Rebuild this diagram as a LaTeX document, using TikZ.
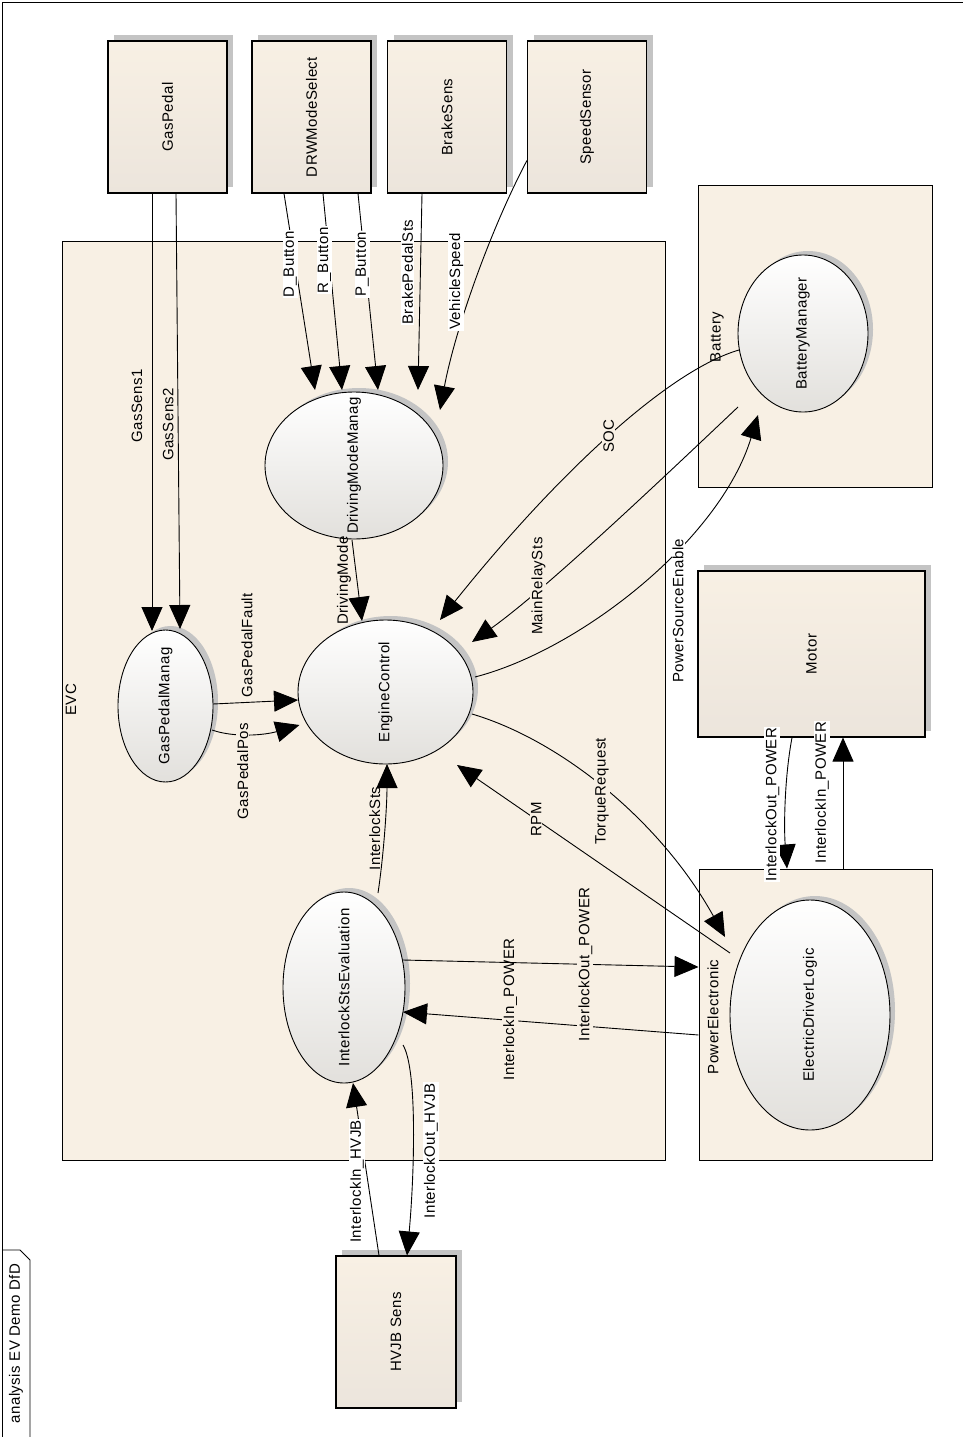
\documentclass[tikz,border=0pt]{standalone}
\usepackage{fontspec}
\setmainfont{Liberation Sans}[LetterSpace=3]
\usepackage{graphicx}
\usetikzlibrary{arrows.meta, shapes.geometric, shadows, calc}

\definecolor{evcbg}{RGB}{248,240,228}
\definecolor{boxlow}{RGB}{236,229,220}
\definecolor{proclow}{RGB}{226,224,220}
\definecolor{shade}{RGB}{196,196,196}

% upright text that does not blow up the shape around it
\newcommand{\vtxt}[1]{\rotatebox{90}{\makebox[0pt]{#1}}}

\tikzset{
  txt/.style={font=\fontsize{15}{18}\selectfont},
  entity/.style={txt, draw, line width=1.1pt, rectangle, inner sep=0pt, top color=evcbg, bottom color=boxlow,
    drop shadow={shadow xshift=6pt, shadow yshift=6pt, opacity=1, fill=shade}},
  subsys/.style={draw, line width=1pt, rectangle, fill=evcbg, inner sep=0pt},
  process/.style={txt, draw, line width=0.9pt, ellipse, inner sep=0pt, top color=white, bottom color=proclow,
    drop shadow={shadow xshift=5pt, shadow yshift=4pt, opacity=1, fill=shade}},
  flow/.style={draw=black, line width=0.9pt, -{Triangle[length=24pt,width=21pt]}},
  % labels are turned, so xshift moves them up and yshift moves them left
  flowlabel/.style={txt, rotate=90, inner sep=1pt, fill=white},
  evclabel/.style={flowlabel, fill=evcbg},
  sidelabel/.style={txt, rotate=90, inner sep=1pt},
}

\begin{document}
\begin{tikzpicture}[x=1pt, y=-1pt]
    \useasboundingbox (0,0) rectangle (963,1437);

    % diagram frame
    \draw[line width=1pt] (2,1437) -- (2,3) -- (963,3);
    \draw[line width=0.8pt] (2,1250) -- (20,1250) -- (30,1260) -- (30,1437);
    \node[txt, rotate=90, anchor=east] (dgmname) at (16,1260) {analysis EV Demo DfD};

    % subsystems
    \node[subsys, minimum width=603pt, minimum height=919pt] (evc) at (363.5,700.5) {};
    \node[subsys, minimum width=234pt, minimum height=302pt] (battery) at (815,336) {};
    \node[subsys, minimum width=233pt, minimum height=291pt] (powerel) at (815.5,1014.5) {};
    \node[txt, rotate=90] (evcname) at (71,700) {EVC};
    \node[txt, rotate=90] (batname) at (717,337) {Battery};
    \node[txt, rotate=90] (pename) at (713,1017) {PowerElectronic};

    % external entities
    \foreach \nm/\x/\lbl in {gaspedal/167.5/GasPedal, drwmode/311.5/DRWModeSelect, brakesens/447/BrakeSens, speedsensor/587/SpeedSensor} {
      \node[entity, minimum width=119pt, minimum height=152pt] (\nm) at (\x,117) {\vtxt{\lbl}};
    }
    \node[entity, minimum width=227pt, minimum height=166pt] (motor) at (811.5,654) {\vtxt{Motor}};
    \node[entity, minimum width=120pt, minimum height=152pt] (hvjb) at (396,1332) {\vtxt{HVJB Sens}};

    % processes
    \node[process, minimum width=95pt, minimum height=152pt] (gpm) at (165.5,706) {\vtxt{GasPedalManag}};
    \node[process, minimum width=175pt, minimum height=144pt] (ec) at (385.5,692) {\vtxt{EngineControl}};
    \node[process, minimum width=178pt, minimum height=147pt] (dmm) at (354,465.5) {\vtxt{DrivingModeManag}};
    \node[process, minimum width=122pt, minimum height=191pt] (ise) at (344,987.5) {\vtxt{InterlockStsEvaluation}};
    \node[process, minimum width=130pt, minimum height=157pt] (bm) at (803,333.5) {\vtxt{BatteryManager}};
    \node[process, minimum width=160pt, minimum height=230pt] (edl) at (810,1015) {\vtxt{ElectricDriverLogic}};

    % sensor inputs
    \draw[flow] ($(gaspedal.south)+(-15.5,0)$) -- node[sidelabel, pos=.485, yshift=15pt] (gs1) {GasSens1} ($(gpm.center)+(-13.5,-75)$);
    \draw[flow] ($(gaspedal.south)+(8.5,0)$) -- node[sidelabel, pos=.53, yshift=10pt] (gs2) {GasSens2} ($(gpm.center)+(14.5,-77)$);
    \draw[flow] ($(drwmode.south)+(-27.5,0)$) -- node[flowlabel, pos=.36, yshift=5pt] (dbtn) {D\_Button} ($(dmm.center)+(-39,-75.5)$);
    \draw[flow] ($(drwmode.south)+(11.5,0)$) -- node[flowlabel, pos=.34, yshift=5pt] (rbtn) {R\_Button} ($(dmm.center)+(-12,-75.5)$);
    \draw[flow] ($(drwmode.south)+(46.5,0)$) -- node[flowlabel, pos=.36, yshift=3pt] (pbtn) {P\_Button} ($(dmm.center)+(24,-75.5)$);
    \draw[flow] ($(brakesens.south)+(-25,0)$) -- node[flowlabel, pos=.4, yshift=13pt] (bps) {BrakePedalSts} ($(dmm.center)+(64,-75.5)$);
    \draw[flow] ($(speedsensor.west)+(0,43.5)$) .. controls +(-37,70) and +(15,-80) .. node[flowlabel, pos=.5, yshift=19pt] (vsp) {VehicleSpeed} ($(dmm.center)+(86,-55.5)$);

    % into engine control
    \draw[flow] ($(dmm.center)+(-2,74.5)$) -- node[sidelabel, pos=.5, yshift=13pt] (dmode) {DrivingMode} ($(ec.center)+(-23.5,-71)$);
    \draw[flow] ($(gpm.center)+(47.5,-2)$) -- node[sidelabel, pos=.4, xshift=57pt] (gpf) {GasPedalFault} ($(ec.center)+(-87.5,8)$);
    \draw[flow] ($(gpm.center)+(46.5,24)$) .. controls +(23,8) and +(-34.5,10) .. node[evclabel, pos=.4, anchor=east, xshift=13pt] (gpp) {GasPedalPos} ($(ec.center)+(-86,33)$);
    \draw[flow] ($(ise.center)+(34,-94.5)$) .. controls +(6,-40) and +(0,40) .. node[sidelabel, pos=.5, yshift=10pt] (ists) {InterlockSts} ($(ec.center)+(1.5,72)$);

    % battery
    \draw[flow] ($(bm.center)+(-64,16.5)$) .. controls +(-69,20) and +(120,-150) .. node[evclabel, pos=.5] (soc) {SOC} ($(ec.center)+(54.5,-72)$);
    \draw[flow] ($(bm.center)+(-65,73.5)$) .. controls +(-95,90) and +(70,-50) .. node[evclabel, pos=.7, yshift=4pt] (mrs) {MainRelaySts} ($(ec.center)+(86.5,-50)$);
    \draw[flow] ($(ec.center)+(89.5,-15)$) .. controls +(105,-27) and +(-38,125) .. node[flowlabel, pos=.62, anchor=east, xshift=10pt] (pse) {PowerSourceEnable} ($(bm.center)+(-45,81.5)$);

    % power electronic
    \draw[flow] ($(ec.center)+(86.5,22)$) .. controls +(88,26) and +(-65,-117) .. node[evclabel, pos=.5, yshift=5pt] (treq) {TorqueRequest} ($(edl.center)+(-85,-78)$);
    \draw[flow] ($(edl.center)+(-80,-62)$) -- node[evclabel, pos=.71] (rpm) {RPM} ($(ec.center)+(71.5,73)$);
    \draw[flow] ($(powerel.west)+(0,20.5)$) -- node[evclabel, pos=.637, xshift=11pt] (iip) {InterlockIn\_POWER} ($(ise.center)+(59,24.5)$);
    \draw[flow] ($(ise.center)+(59,-27.5)$) -- node[evclabel, pos=.617] (iop) {InterlockOut\_POWER} ($(powerel.west)+(0,-47.5)$);

    % motor
    \draw[flow] ($(powerel.north)+(27.5,0)$) -- node[flowlabel, pos=.58, yshift=21pt] (mip) {InterlockIn\_POWER} ($(motor.south)+(31.5,0)$);
    \draw[flow] ($(motor.south)+(-19.5,0)$) .. controls +(-8,43) and +(-3,-39) .. node[flowlabel, pos=.5, yshift=13pt] (mop) {InterlockOut\_POWER} ($(powerel.north)+(-28.5,0)$);

    % hvjb
    \draw[flow] ($(ise.center)+(59,57.5)$) .. controls +(15,25) and +(7,-76) .. node[flowlabel, pos=.58, yshift=-18pt] (ioh) {InterlockOut\_HVJB} ($(hvjb.north)+(11,0)$);
    \draw[flow] ($(hvjb.north)+(-17,0)$) -- node[flowlabel, pos=.43, yshift=11pt] (iih) {InterlockIn\_HVJB} ($(ise.center)+(9,95.5)$);
\end{tikzpicture}
\end{document}
